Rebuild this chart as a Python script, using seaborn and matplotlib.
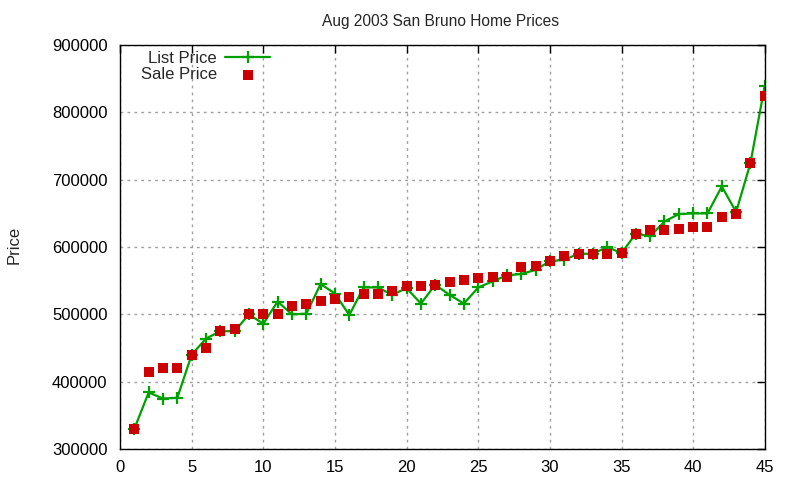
import pandas as pd
import matplotlib.pyplot as plt
import seaborn as sns

# house number (sorted by price) and prices
house = list(range(1, 46))
list_price = [330000, 384000, 375000, 376000, 440000, 464000, 475000, 475000, 500000, 486000,
              519000, 500000, 501000, 545000, 531000, 499000, 540000, 540000, 529000, 539000,
              516000, 544000, 529000, 516000, 540000, 549000, 558000, 560000, 566000, 579000,
              581000, 590000, 590000, 600000, 591000, 620000, 616000, 638000, 649000, 650000,
              650000, 690000, 652000, 725000, 840000]
sale_price = [330000, 415000, 420000, 420000, 440000, 450000, 476000, 478000, 500000, 500000,
              500000, 512000, 516000, 520000, 523000, 526000, 530000, 530000, 535000, 542000,
              542000, 544000, 548000, 551000, 554000, 556000, 556000, 571000, 572000, 580000,
              586000, 590000, 590000, 590000, 591000, 620000, 625000, 625000, 627000, 630000,
              630000, 645000, 649000, 725000, 825000]

df = pd.DataFrame({'house': house, 'list': list_price, 'sale': sale_price})

sns.set_style('white')
plt.rcParams['font.family'] = ['Liberation Sans', 'DejaVu Sans']

fig = plt.figure(figsize=(8, 4.8), dpi=100)
ax = fig.add_axes([0.15, 0.0646, 0.806, 0.8414])

sns.lineplot(data=df, x='house', y='list', ax=ax, color='#00a000', linewidth=1.6,
             marker='+', markersize=8, markeredgewidth=1.6, markeredgecolor='#00a000',
             label='List Price')
sns.scatterplot(data=df, x='house', y='sale', ax=ax, color='#cc0000', marker='s', s=50,
                linewidth=0, label='Sale Price', zorder=3)

ax.set_xlim(0, 45)
ax.set_ylim(300000, 900000)
ax.set_xticks(range(0, 46, 5))
ax.set_yticks(range(300000, 900001, 100000))
ax.ticklabel_format(axis='y', style='plain', useOffset=False)
ax.tick_params(direction='in', length=6, width=1, top=True, right=True,
               labelsize=12, colors='black', pad=9)
ax.tick_params(axis='x', pad=8)
for s in ax.spines.values():
    s.set_color('black')
    s.set_linewidth(1)
ax.grid(True, color='#a0a0a0', linestyle=(0, (2, 3)), linewidth=1)
ax.set_axisbelow(True)

ax.set_xlabel('')
ax.set_ylabel('')
fig.text(0.018, 0.49, 'Price', rotation=90, fontsize=12, ha='center', va='center')
fig.text(0.55, 0.955, 'Aug 2003 San Bruno Home Prices', fontsize=11.2, ha='center', va='center')

ax.legend(loc='upper left', bbox_to_anchor=(0.017, 1.01), frameon=False, markerfirst=False,
          fontsize=12, handlelength=2.7, handletextpad=0.5, labelspacing=0.05,
          borderaxespad=0.2)

fig.savefig('out.png', dpi=100)
